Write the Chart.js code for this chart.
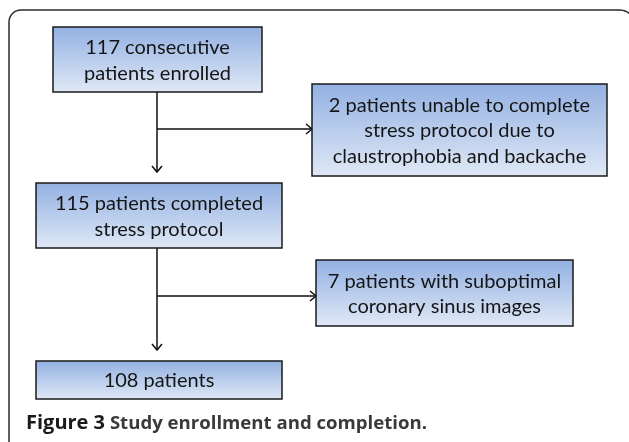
<!DOCTYPE html>
<html>
<head>
<meta charset="utf-8">
<script src="https://cdn.jsdelivr.net/npm/chart.js@4.4.1/dist/chart.umd.min.js"></script>
<style>
  html, body { margin: 0; padding: 0; background: #fff; }
  #wrap { width: 629px; height: 442px; position: relative; }
</style>
</head>
<body>
<div id="wrap"><canvas id="flow"></canvas></div>
<script>
// flowchart boxes, in page units (x to the right, y downward)
const boxLabels = [
    ['117 consecutive', 'patients enrolled'],
    ['2 patients unable to complete', 'stress protocol due to', 'claustrophobia and backache'],
    ['115 patients completed', 'stress protocol'],
    ['7 patients with suboptimal', 'coronary sinus images'],
    ['108 patients']
];
const boxLeft   = [53, 312, 36, 316, 36];
const boxRight  = [262, 607, 282, 573, 282];
const boxTop    = [27, 84, 183, 260, 361];
const boxBottom = [92, 176, 248, 326, 399];

// connectors: main trunk down, then branch to the side box
const trunkX     = [157, 157];
const trunkFrom  = [92, 248];
const trunkTo    = [172, 350];
const branchY    = [129, 296];
const branchTo   = [312, 316];

const captionBold = 'Figure 3';
const captionRest = ' Study enrollment and completion.';

const FONT = 'Lato, "Open Sans", sans-serif';

const flowPlugin = {
    id: 'flow',
    afterDatasetsDraw(chart) {
        const ctx = chart.ctx;
        const xs = chart.scales.x, ys = chart.scales.y;
        const px = v => xs.getPixelForValue(v);
        const py = v => ys.getPixelForValue(v);
        ctx.save();

        // outer rounded frame, its right side runs off the picture
        ctx.strokeStyle = '#2b2b2b';
        ctx.lineWidth = 1.5;
        ctx.beginPath();
        ctx.moveTo(px(9), py(442));
        ctx.lineTo(px(9), py(22));
        ctx.arcTo(px(9), py(10), px(21), py(10), 12);
        ctx.lineTo(px(620), py(10));
        ctx.arcTo(px(634), py(10), px(634), py(24), 14);
        ctx.lineTo(px(634), py(442));
        ctx.stroke();

        // connectors
        ctx.strokeStyle = '#111';
        ctx.lineWidth = 1.5;
        trunkX.forEach((x, i) => {
            ctx.beginPath();
            ctx.moveTo(px(x), py(trunkFrom[i]));
            ctx.lineTo(px(x), py(trunkTo[i]));
            ctx.moveTo(px(x), py(branchY[i]));
            ctx.lineTo(px(branchTo[i]), py(branchY[i]));
            ctx.stroke();
            // arrow heads
            ctx.beginPath();
            ctx.moveTo(px(x) - 5, py(trunkTo[i]) - 6);
            ctx.lineTo(px(x), py(trunkTo[i]));
            ctx.lineTo(px(x) + 5, py(trunkTo[i]) - 6);
            ctx.moveTo(px(branchTo[i]) - 6, py(branchY[i]) - 5);
            ctx.lineTo(px(branchTo[i]), py(branchY[i]));
            ctx.lineTo(px(branchTo[i]) - 6, py(branchY[i]) + 5);
            ctx.stroke();
        });

        // boxes
        boxLabels.forEach((lines, i) => {
            const l = px(boxLeft[i]), r = px(boxRight[i]);
            const t = py(boxTop[i]), b = py(boxBottom[i]);
            const g = ctx.createLinearGradient(0, t, 0, b);
            g.addColorStop(0, '#93b1e2');
            g.addColorStop(1, '#dfe8f6');
            ctx.fillStyle = g;
            ctx.fillRect(l, t, r - l, b - t);
            ctx.strokeStyle = '#1a1a1a';
            ctx.lineWidth = 1.5;
            ctx.strokeRect(l, t, r - l, b - t);

            ctx.fillStyle = '#151515';
            ctx.font = '20px ' + FONT;
            ctx.textAlign = 'center';
            ctx.textBaseline = 'middle';
            const lh = 25.5;
            const cy = (t + b) / 2 + 1;
            lines.forEach((s, k) => {
                ctx.fillText(s, (l + r) / 2, cy + (k - (lines.length - 1) / 2) * lh);
            });
        });

        // caption
        ctx.textAlign = 'left';
        ctx.textBaseline = 'alphabetic';
        ctx.font = 'bold 20px "Open Sans", sans-serif';
        ctx.fillStyle = '#1a1a1a';
        ctx.fillText(captionBold, px(26), py(429));
        const w = ctx.measureText(captionBold).width;
        ctx.font = 'bold 18.6px "Open Sans", sans-serif';
        ctx.fillStyle = '#3a3a3a';
        ctx.fillText(captionRest, px(26) + w, py(429));

        ctx.restore();
    }
};

new Chart(document.getElementById('flow'), {
    type: 'scatter',
    data: { datasets: [{ data: [] }] },
    options: {
        responsive: true,
        maintainAspectRatio: false,
        animation: false,
        layout: { padding: 0 },
        plugins: { legend: { display: false }, tooltip: { enabled: false } },
        scales: {
            x: { type: 'linear', min: 0, max: 629, display: false },
            y: { type: 'linear', min: 0, max: 442, reverse: true, display: false }
        }
    },
    plugins: [flowPlugin]
});
</script>
</body>
</html>
